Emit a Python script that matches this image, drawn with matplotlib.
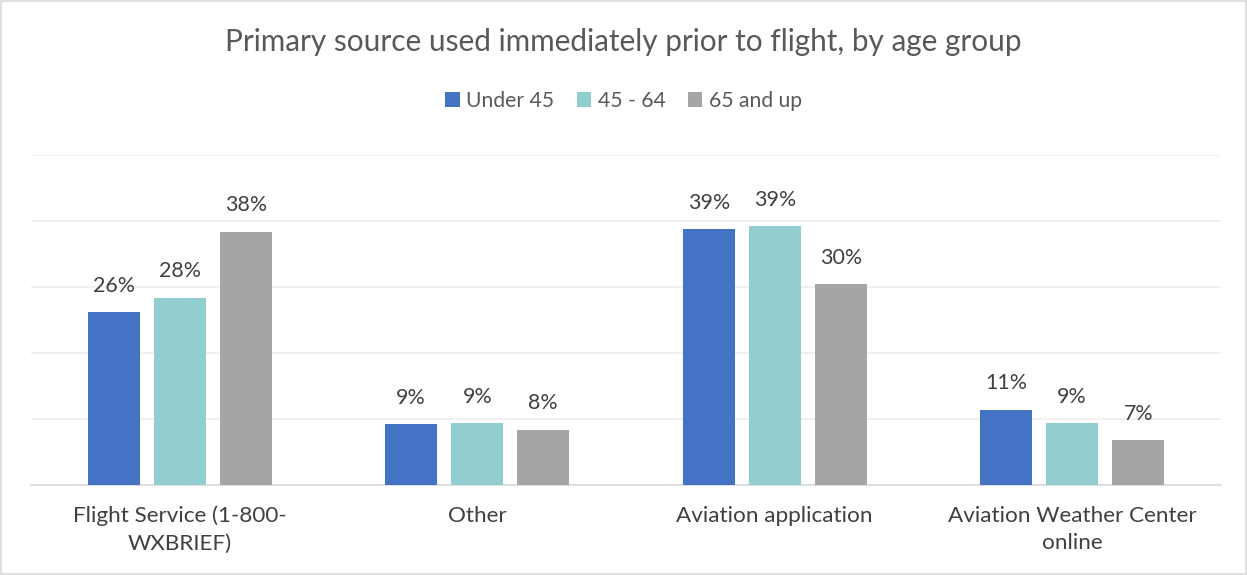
import numpy as np
import matplotlib.pyplot as plt
from matplotlib.patches import Rectangle

# data
categories = ["Flight Service (1-800-\nWXBRIEF)", "Other", "Aviation application",
              "Aviation Weather Center\nonline"]
series_names = ["Under 45", "45 - 64", "65 and up"]
under_45 = [26.2, 9.2, 38.8, 11.4]
age_45_64 = [28.4, 9.4, 39.2, 9.4]
age_65_up = [38.4, 8.4, 30.4, 6.8]
colors = ["#4472C4", "#92CDCF", "#A5A5A5"]

plt.rcParams['font.family'] = ['Lato', 'DejaVu Sans']

fig = plt.figure(figsize=(12.47, 5.75), dpi=100)
ax = fig.add_axes([31/1247, 1 - 485/575, 1190/1247, 330/575])

x = np.arange(len(categories))
width = 0.175
step = 0.222
for i, (vals, name) in enumerate(zip([under_45, age_45_64, age_65_up], series_names)):
    pos = x + (i - 1) * step
    bars = ax.bar(pos, vals, width, color=colors[i], label=name, zorder=3)
    for b, v in zip(bars, vals):
        ax.annotate(f"{round(v)}%", (b.get_x() + b.get_width() / 2, v),
                    xytext=(0, 19), textcoords="offset points",
                    ha="center", va="center", fontsize=15.4, color="#404040")

ax.set_xlim(-0.5, len(categories) - 0.5)
ax.set_ylim(0, 50)
ax.set_yticks(np.arange(0, 51, 10))
ax.yaxis.grid(True, color="#EDEDED", linewidth=1.2, zorder=0)
ax.tick_params(axis="y", left=False, labelleft=False)
ax.tick_params(axis="x", length=0, pad=15)
ax.set_xticks(x)
ax.set_xticklabels(categories, fontsize=16.2, color="#404040", linespacing=1.45)
for s in ["top", "right", "left"]:
    ax.spines[s].set_visible(False)
ax.spines["bottom"].set_color("#D9D9D9")
ax.spines["bottom"].set_linewidth(1.2)

fig.text(0.5, 1 - 42/575, "Primary source used immediately prior to flight, by age group",
         ha="center", va="center", fontsize=21.4, color="#595959")
fig.legend(loc="center", bbox_to_anchor=(0.5, 1 - 101/575), ncol=3, frameon=False,
           fontsize=15.2, handlelength=0.7, handleheight=0.7, handletextpad=0.3,
           columnspacing=1.05, labelcolor="#595959")

fig.patches.append(Rectangle((0.0008, 0.0015), 0.9984, 0.997, transform=fig.transFigure,
                             fill=False, edgecolor="#D9D9D9", linewidth=1.2))

fig.savefig("out.png", dpi=100)
